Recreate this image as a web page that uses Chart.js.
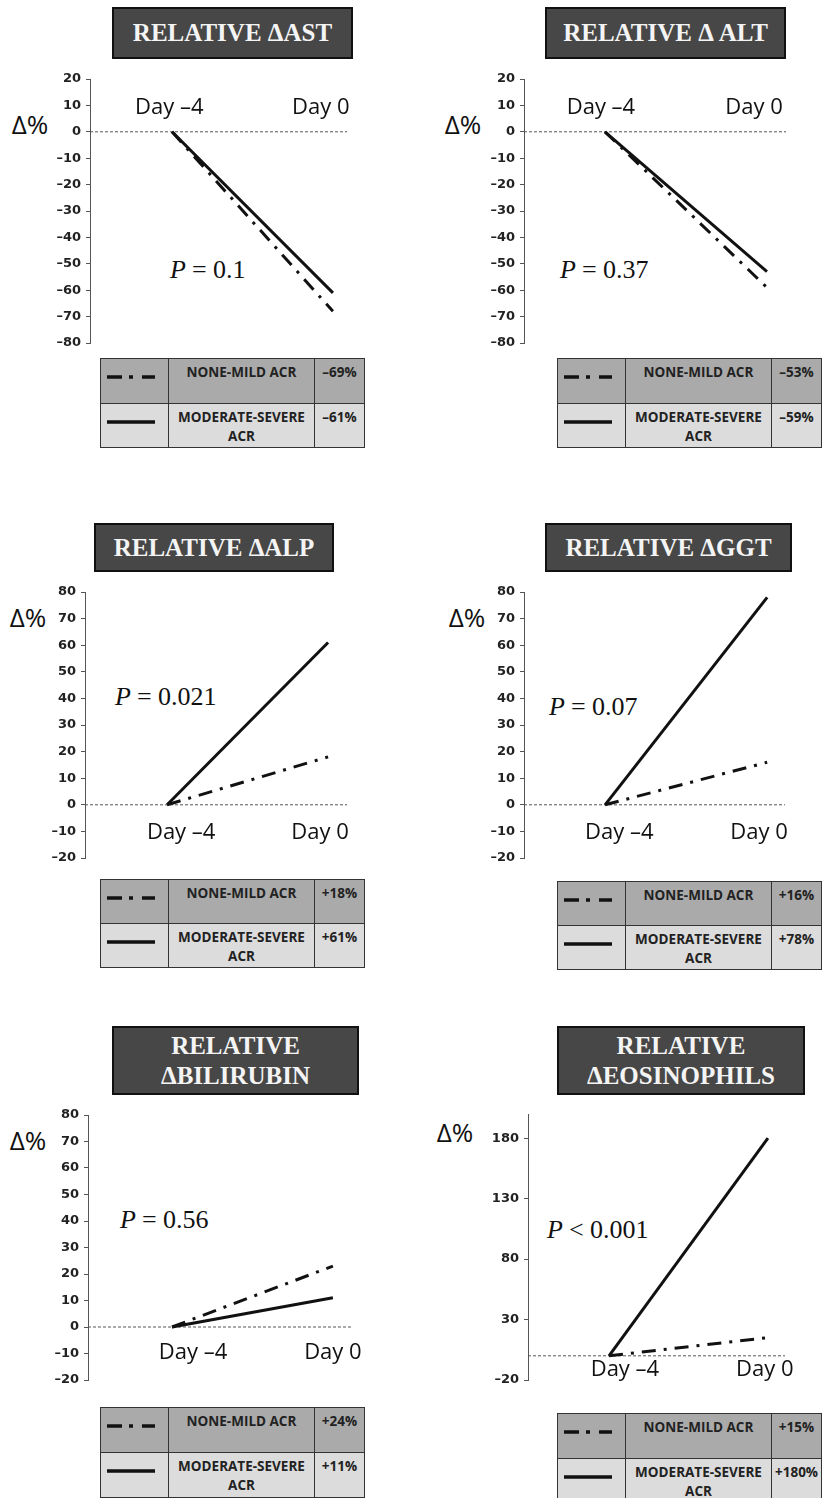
<!DOCTYPE html>
<html>
<head>
<meta charset="utf-8">
<script src="https://cdn.jsdelivr.net/npm/chart.js@4.4.1/dist/chart.umd.min.js"></script>
<style>
  html, body { margin: 0; padding: 0; background: #fff; }
  #page { position: relative; width: 823px; height: 1498px; overflow: hidden; background: #fff; }
  .title {
    position: absolute; box-sizing: border-box; background: #474747; border: 2px solid #111;
    color: #f4f4f4; font-family: "Liberation Serif", serif; font-weight: bold; font-size: 25px;
    display: flex; align-items: center; justify-content: center; text-align: center; line-height: 30px;
    white-space: pre-line;
  }
  .delta { position: absolute; font-family: "Open Sans", sans-serif; font-size: 26px; color: #111; transform: translate(-50%, -50%); }
  .pval { position: absolute; font-family: "Liberation Serif", serif; font-size: 26px; color: #111; transform: translateY(-50%); white-space: nowrap; }
  .pval i { margin-right: 6px; }
  canvas { position: absolute; }
  table.leg {
    position: absolute; border-collapse: collapse; font-family: "Open Sans", sans-serif; font-weight: bold;
    font-size: 13.5px; color: #222; table-layout: fixed;
  }
  table.leg td { border: 1.5px solid #333; vertical-align: top; text-align: center; padding: 4px 1px 0 1px; line-height: 19px; }
  table.leg tr.r1 td { background: #aaaaaa; }
  table.leg tr.r2 td { background: #dcdcdc; }
  table.leg td.smp { text-align: left; padding: 16px 0 0 6px; }
  table.leg td.smp svg { display: block; }
</style>
</head>
<body>
<div id="page"></div>
<script>
// ---- data ----
const titles = ['RELATIVE \u0394AST', 'RELATIVE \u0394 ALT', 'RELATIVE \u0394ALP', 'RELATIVE \u0394GGT', 'RELATIVE\n\u0394BILIRUBIN', 'RELATIVE\n\u0394EOSINOPHILS'];
const dayLabels = ['Day \u20134', 'Day 0'];
const days = [-4, 0];
const noneMildStart = [0, 0, 0, 0, 0, 0];
const noneMildDay0 = [-68, -59, 18, 16, 23, 15];
const modSevereStart = [0, 0, 0, 0, 0, 0];
const modSevereDay0 = [-61, -53, 61, 78, 11, 180];
const legendNoneMild = ['\u201369%', '\u201353%', '+18%', '+16%', '+24%', '+15%'];
const legendModSevere = ['\u201361%', '\u201359%', '+61%', '+78%', '+11%', '+180%'];
const pLabels = ['= 0.1', '= 0.37', '= 0.021', '= 0.07', '= 0.56', '< 0.001'];
const ticksNeg = [20, 10, 0, -10, -20, -30, -40, -50, -60, -70, -80];
const ticksPos = [80, 70, 60, 50, 40, 30, 20, 10, 0, -10, -20];
const ticksEos = [180, 130, 80, 30, -20];
const yRanges = [[-80, 20], [-80, 20], [-20, 80], [-20, 80], [-20, 80], [-20, 200]];
const yTicks = [ticksNeg, ticksNeg, ticksPos, ticksPos, ticksPos, ticksEos];

// ---- layout of each panel (pixels) ----
const panels = [
  { axisX: 90,  top: 79,   bottom: 343,  areaW: 257, xMin: -6.04, xMax: 0.35, dayAt: [-4.07, -0.3], dayPad: -37,
    title: [112, 7, 241, 52],   delta: [30, 124],   p: [170, 270],  legend: [100, 358, 89] },
  { axisX: 524, top: 79,   bottom: 343,  areaW: 262, xMin: -6.0,  xMax: 0.47, dayAt: [-4.1, -0.32],  dayPad: -37,
    title: [545, 7, 241, 52],   delta: [463, 124],  p: [560, 270],  legend: [557, 358, 89] },
  { axisX: 85,  top: 592,  bottom: 858,  areaW: 262, xMin: -6.04, xMax: 0.47, dayAt: [-3.65, -0.2],  dayPad: 15,
    title: [94, 523, 240, 49],  delta: [28, 617],   p: [115, 697],  legend: [100, 879, 88] },
  { axisX: 524, top: 592,  bottom: 858,  areaW: 261, xMin: -6.0,  xMax: 0.44, dayAt: [-3.65, -0.2],  dayPad: 15,
    title: [545, 523, 247, 49], delta: [467, 617],  p: [549, 707],  legend: [557, 881, 88] },
  { axisX: 88,  top: 1115, bottom: 1380, areaW: 265, xMin: -6.09, xMax: 0.5,  dayAt: [-3.48, 0],     dayPad: 13,
    title: [112, 1026, 247, 69], delta: [28, 1140], p: [120, 1220], legend: [100, 1407, 90] },
  { axisX: 528, top: 1114, bottom: 1380, areaW: 257, xMin: -6.04, xMax: 0.43, dayAt: [-3.6, -0.08],  dayPad: 1,
    title: [557, 1026, 248, 69], delta: [455, 1132], p: [547, 1230], legend: [557, 1413, 90] }
];

const PAD_L = 4, Y_W = 44, PAD_T = 12, PAD_B = 14, PAD_R = 10;
const page = document.getElementById('page');

function el(tag, cls, parent) {
  const e = document.createElement(tag);
  if (cls) e.className = cls;
  (parent || page).appendChild(e);
  return e;
}

const dashDotSvg = '<svg width="50" height="4"><g stroke="#111" stroke-width="3.5">' +
  '<line x1="0" y1="2" x2="15" y2="2"/><line x1="22" y1="2" x2="26" y2="2"/><line x1="35" y1="2" x2="48" y2="2"/></g></svg>';
const solidSvg = '<svg width="50" height="4"><line x1="0" y1="2" x2="48" y2="2" stroke="#111" stroke-width="3.5"/></svg>';

panels.forEach((cfg, i) => {
  // title box
  const t = el('div', 'title');
  t.textContent = titles[i];
  Object.assign(t.style, { left: cfg.title[0] + 'px', top: cfg.title[1] + 'px', width: cfg.title[2] + 'px', height: cfg.title[3] + 'px' });

  // delta% label
  const d = el('div', 'delta');
  d.textContent = '\u0394%';
  Object.assign(d.style, { left: cfg.delta[0] + 'px', top: cfg.delta[1] + 'px' });

  // P value
  const p = el('div', 'pval');
  p.innerHTML = '<i>P</i>' + pLabels[i];
  Object.assign(p.style, { left: cfg.p[0] + 'px', top: cfg.p[1] + 'px' });

  // legend table
  const tb = el('table', 'leg');
  const [lx, ly, lh] = cfg.legend;
  const lw = 823 - lx < 266 ? 823 - lx + 1 : 265;
  Object.assign(tb.style, { left: lx + 'px', top: ly + 'px', width: lw + 'px' });
  const rowH = lh / 2;
  tb.innerHTML =
    '<colgroup><col style="width:68px"><col style="width:146px"><col></colgroup>' +
    `<tr class="r1" style="height:${rowH}px"><td class="smp">${dashDotSvg}</td><td>NONE-MILD ACR</td><td>${legendNoneMild[i]}</td></tr>` +
    `<tr class="r2" style="height:${rowH}px"><td class="smp">${solidSvg}</td><td>MODERATE-SEVERE<br>ACR</td><td>${legendModSevere[i]}</td></tr>`;

  // chart canvas
  const c = el('canvas');
  const w = PAD_L + Y_W + cfg.areaW + PAD_R;
  const h = PAD_T + (cfg.bottom - cfg.top) + PAD_B;
  c.width = w; c.height = h;
  Object.assign(c.style, { left: (cfg.axisX - Y_W - PAD_L) + 'px', top: (cfg.top - PAD_T) + 'px', width: w + 'px', height: h + 'px' });

  const [yMin, yMax] = yRanges[i];
  const ticks = yTicks[i];

  new Chart(c.getContext('2d'), {
    type: 'scatter',
    data: {
      datasets: [
        {
          label: 'NONE-MILD ACR',
          data: days.map((x, k) => ({ x, y: k === 0 ? noneMildStart[i] : noneMildDay0[i] })),
          showLine: true, borderColor: '#111', borderWidth: 3, borderDash: [14, 8, 3, 8],
          pointRadius: 0
        },
        {
          label: 'MODERATE-SEVERE ACR',
          data: days.map((x, k) => ({ x, y: k === 0 ? modSevereStart[i] : modSevereDay0[i] })),
          showLine: true, borderColor: '#111', borderWidth: 3, pointRadius: 0
        },
        {
          label: 'zero',
          data: [{ x: cfg.xMin, y: 0 }, { x: cfg.xMax, y: 0 }],
          showLine: true, borderColor: '#555', borderWidth: 1, borderDash: [3, 2], pointRadius: 0
        }
      ]
    },
    options: {
      responsive: false,
      animation: false,
      events: [],
      devicePixelRatio: 1,
      layout: { padding: { left: PAD_L, top: PAD_T, right: PAD_R, bottom: PAD_B } },
      plugins: { legend: { display: false }, tooltip: { enabled: false } },
      scales: {
        x: {
          type: 'linear', min: cfg.xMin, max: cfg.xMax,
          position: { y: 0 },
          grid: { display: false, drawTicks: false },
          border: { display: false },
          afterBuildTicks: s => { s.ticks = cfg.dayAt.map(v => ({ value: v })); },
          afterFit: s => { s.paddingLeft = 0; s.paddingRight = 0; },
          ticks: {
            autoSkip: false, maxRotation: 0, padding: cfg.dayPad, color: '#111',
            font: { family: 'Open Sans', size: 22 },
            callback: (v, idx) => dayLabels[idx]
          }
        },
        y: {
          type: 'linear', min: yMin, max: yMax, position: 'left',
          afterBuildTicks: s => { s.ticks = ticks.map(v => ({ value: v })); },
          afterFit: s => { s.width = Y_W; s.paddingTop = 0; s.paddingBottom = 0; },
          grid: { drawOnChartArea: false, drawTicks: true, tickLength: 4, tickColor: '#555', tickWidth: 1 },
          border: { display: true, color: '#555', width: 1 },
          ticks: {
            autoSkip: false, padding: 5, color: '#222',
            font: { family: 'DejaVu Sans', weight: 'bold', size: 13 },
            callback: v => String(v).replace('-', '\u2013')
          }
        }
      }
    }
  });
});
</script>
</body>
</html>
